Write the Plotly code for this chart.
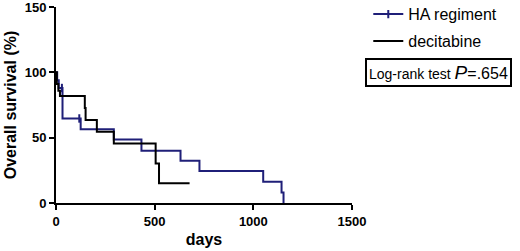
import plotly.graph_objects as go

# Kaplan-Meier step data
ha_days = [0, 6, 14, 30, 33, 118, 125, 293, 433, 631, 727, 1050, 1143, 1153]
ha_surv = [100, 94, 88, 88, 64.7, 64.7, 56.5, 48.6, 40, 32.3, 24.4, 16.3, 8, 0]
ha_censored = [3, 5]  # indices of censor ticks

dec_days = [0, 4, 12, 20, 146, 150, 207, 293, 505, 522, 677]
dec_surv = [100, 91, 86, 81.8, 72.7, 63.6, 54.5, 45.5, 30.3, 15.2, 15.2]

navy = "#1f1f78"

fig = go.Figure()
fig.add_trace(go.Scatter(
    x=ha_days, y=ha_surv, name="HA regiment", mode="lines+markers",
    line=dict(color=navy, width=2, shape="hv"),
    marker=dict(symbol="line-ns-open", size=6, color=navy, line=dict(color=navy, width=2)),
    selectedpoints=ha_censored, unselected=dict(marker=dict(opacity=0)),
    legendgroup="a"))
fig.add_trace(go.Scatter(
    x=dec_days, y=dec_surv, name="decitabine", mode="lines",
    line=dict(color="black", width=2, shape="hv"), legendgroup="b"))

fig.add_annotation(
    xref="paper", yref="paper", x=1.044, y=0.668, xanchor="left", yanchor="middle",
    text="Log-rank test <span style='font-size:19px'><i>P</i></span><span style='font-size:16px'>=.654</span>",
    showarrow=False, font=dict(family="Arial", size=14, color="black"),
    bordercolor="black", borderwidth=2, borderpad=2, bgcolor="white")

axfont = dict(family="Arial", size=13, color="black", weight="bold")
fig.update_xaxes(range=[0, 1500], tickvals=[0, 500, 1000, 1500], showline=True, linecolor="black",
                 linewidth=2, ticks="outside", ticklen=5, tickwidth=2, tickcolor="black",
                 showgrid=False, zeroline=False, tickfont=axfont, automargin=False,
                 ticklabeloverflow="allow",
                 title=dict(text="days", font=dict(family="Arial", size=16, color="black", weight="bold"), standoff=6))
fig.update_yaxes(range=[0, 150], tickvals=[0, 50, 100, 150], showline=True, linecolor="black",
                 linewidth=2, ticks="outside", ticklen=5, tickwidth=2, tickcolor="black",
                 showgrid=False, zeroline=False, tickfont=axfont, automargin=False,
                 ticklabeloverflow="allow",
                 title=dict(text="Overall survival (%)", font=dict(family="Arial", size=16, color="black", weight="bold"), standoff=4))

fig.update_layout(
    width=520, height=251, margin=dict(l=56, r=168, t=7, b=48, autoexpand=False),
    plot_bgcolor="white", paper_bgcolor="white",
    showlegend=True,
    legend=dict(x=1.055, y=1.05, xanchor="left", yanchor="top",
                font=dict(family="Arial", size=16, color="black"), traceorder="grouped",
                tracegroupgap=3, bgcolor="rgba(0,0,0,0)"),
)

fig.write_html("out.html", config={"displayModeBar": False},
               post_script="document.body.style.margin='0';")
